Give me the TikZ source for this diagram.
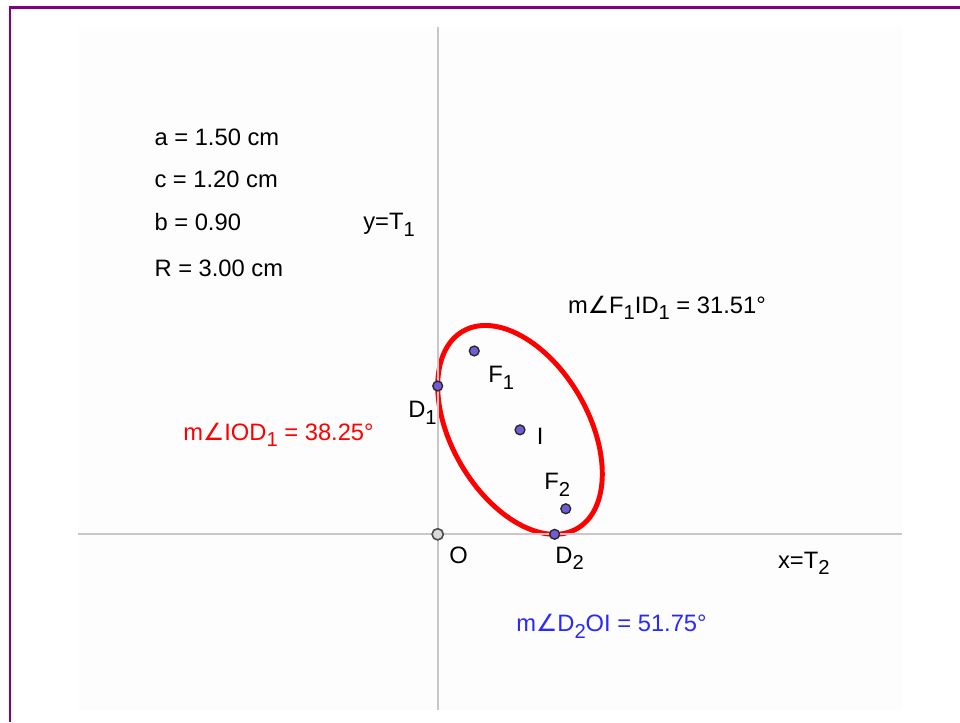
\documentclass[tikz,border=0pt]{standalone}
\usepackage{fontspec}
\setmainfont{Liberation Sans}
\newfontfamily\symfont{DejaVu Sans}

\definecolor{rahmen}{RGB}{128,0,128}
\definecolor{achse}{RGB}{200,200,200}
\definecolor{punkt}{RGB}{112,92,212}
\definecolor{blau}{RGB}{40,40,255}

% tiefgestellter Index und Winkelzeichen
\newcommand{\ix}[1]{\raisebox{-0.5ex}{\fontsize{11.5}{12}\selectfont #1}}
\newcommand{\wnk}{{\symfont ∠}}

\begin{document}
\begin{tikzpicture}[x=1.52cm, y=1.52cm,
    txt/.style={inner sep=0pt, anchor=base west, font=\fontsize{13.5}{16}\selectfont},
    pkt/.style={circle, inner sep=0pt, minimum size=5.6pt, fill=punkt, draw=black!85, line width=0.75pt}]

    \useasboundingbox (-5.759,-2.470) rectangle (6.872,7.030);

    % Rahmen
    \draw[rahmen, line width=1.6pt] (-5.628,-2.470) -- (-5.628,6.929) -- (6.872,6.929);

    % Hintergrund
    \fill[black!0.8] (-4.733,-2.313) rectangle (6.109,6.675);

    % Ellipse (a = 1.5, b = 0.9, Mittelpunkt I)
    \draw[red, line width=2.8pt, rotate around={-59.87:(1.0829,1.3737)}]
      (1.0829,1.3737) ellipse [x radius=1.5, y radius=0.9];

    % Achsen
    \draw[achse, line width=1.1pt] (0,-2.313) -- (0,6.675); % y-Achse
    \draw[achse, line width=1.1pt] (-4.733,0) -- (6.109,0); % x-Achse

    % Punkte
    \node[pkt, fill=black!15, draw=black!70, minimum size=6.4pt, line width=0.9pt] (O) at (0,0) {};
    \node[pkt] (D1) at (0,1.951) {};
    \node[pkt] (D2) at (1.538,0) {};
    \node[pkt] (F1) at (0.481,2.412) {};
    \node[pkt] (F2) at (1.685,0.336) {};
    \node[pkt] (I) at (1.083,1.374) {};

    % Beschriftung der Punkte
    \node[txt] (lO) at (0.149,-0.382) {O};
    \node[txt] (lD1) at (-0.391,1.533) {D\ix{1}};
    \node[txt] (lD2) at (1.545,-0.382) {D\ix{2}};
    \node[txt] (lF1) at (0.662,1.991) {F\ix{1}};
    \node[txt] (lF2) at (1.399,0.583) {F\ix{2}};
    \node[txt] (lI) at (1.300,1.188) {I};

    % Parameter
    \foreach \y/\wert [count=\i] in {5.109/{a = 1.50 cm}, 4.557/{c = 1.20 cm}, 3.991/{b = 0.90}, 3.386/{R = 3.00 cm}} {
      \node[txt] (par\i) at (-3.73,\y) {\wert};
    }

    % Tangenten
    \node[txt] (tA) at (-0.983,4.004) {y=T\ix{1}};
    \node[txt] (tB) at (4.474,-0.447) {x=T\ix{2}};

    % Winkel
    \node[txt] (wA) at (1.712,2.908) {m\wnk F\ix{1}ID\ix{1} = 31.51°};
    \node[txt, red] (wB) at (-3.351,1.232) {m\wnk IOD\ix{1} = 38.25°};
    \node[txt, blau] (wC) at (1.030,-1.282) {m\wnk D\ix{2}OI = 51.75°};

\end{tikzpicture}
\end{document}
